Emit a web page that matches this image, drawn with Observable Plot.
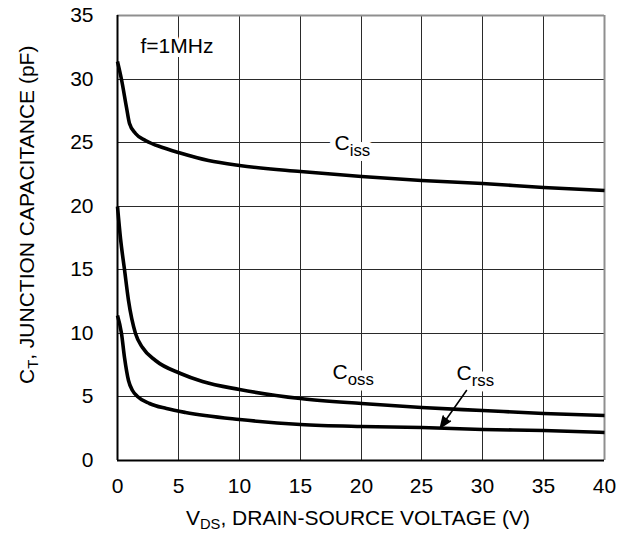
<!DOCTYPE html>
<html>
<head>
<meta charset="utf-8">
<script src="https://cdn.jsdelivr.net/npm/d3@7"></script>
<script src="https://cdn.jsdelivr.net/npm/@observablehq/plot@0.6"></script>
<style>
  body { margin: 0; background: #fff; }
  #chart svg { display: block; }
</style>
</head>
<body>
<div id="chart"></div>
<script>
// Junction capacitance vs drain-source voltage, f = 1 MHz
// Each series: [V_DS (V), capacitance (pF)]
const ciss = [
  [0, 31.4], [0.3, 30.0], [0.7, 27.8], [1.0, 26.5], [1.5, 25.7], [2.3, 25.2],
  [3.7, 24.6], [5, 24.2], [7.5, 23.6], [10, 23.2], [15, 22.7], [20, 22.35],
  [25, 22.0], [30, 21.75], [35, 21.5], [40, 21.25]
];
const coss = [
  [0, 20.0], [0.28, 17.5], [0.56, 15.0], [0.92, 12.6], [1.46, 10.0], [2.06, 8.9],
  [3.16, 7.86], [5.2, 6.82], [7, 6.19], [10, 5.58], [15, 4.9], [20, 4.48],
  [25, 4.18], [30, 3.9], [35, 3.7], [40, 3.54]
];
const crss = [
  [0, 11.4], [0.29, 10.0], [0.61, 8.1], [0.92, 6.3], [1.24, 5.5], [1.65, 5.0],
  [2.6, 4.46], [4, 4.06], [5.6, 3.8], [10, 3.2], [15, 2.82], [20, 2.68],
  [25, 2.57], [30, 2.46], [35, 2.33], [40, 2.22]
];

const xTicks = [0, 5, 10, 15, 20, 25, 30, 35, 40];
const yTicks = [0, 5, 10, 15, 20, 25, 30, 35];
const xGrid = [5, 10, 15, 20, 25, 30, 35];
const yGrid = [5, 10, 15, 20, 25, 30];

// Curve labels ("_" marks the start of a subscript), placed in data units
const curveLabels = [
  {x: 17.8, y: 24.9, text: "C_iss"},
  {x: 17.7, y: 6.92, text: "C_oss"},
  {x: 27.83, y: 6.84, text: "C_rss"}
];
const noteLabels = [{x: 1.9, y: 32.56, text: "f=1MHz"}];
const crssArrow = [{x1: 28.65, y1: 5.51, x2: 26.54, y2: 2.57}];

const W = 633, H = 533;
const mL = 117, mR = 29, mT = 15, mB = 73;
const FONT = "'Liberation Sans', Arial, Helvetica, sans-serif";

const series = [
  ...ciss.map(([v, c]) => ({v, c, s: "Ciss"})),
  ...coss.map(([v, c]) => ({v, c, s: "Coss"})),
  ...crss.map(([v, c]) => ({v, c, s: "Crss"}))
];

const labelOpts = {x: "x", y: "y", text: "text", textAnchor: "start", fontSize: 21};

const chart = Plot.plot({
  width: W,
  height: H,
  marginLeft: mL,
  marginRight: mR,
  marginTop: mT,
  marginBottom: mB,
  style: {fontFamily: FONT, fontSize: "21px", color: "#000", background: "#fff"},
  x: {domain: [0, 40], label: null, round: true},
  y: {domain: [0, 35], label: null, round: true},
  marks: [
    Plot.gridX(xGrid, {stroke: "#2a2a2a", strokeOpacity: 1, strokeWidth: 1}),
    Plot.gridY(yGrid, {stroke: "#2a2a2a", strokeOpacity: 1, strokeWidth: 1}),
    Plot.ruleX([40], {stroke: "#8f8f8f", strokeWidth: 2}),
    Plot.ruleY([35], {stroke: "#8f8f8f", strokeWidth: 2}),
    Plot.ruleX([0], {stroke: "#000", strokeWidth: 2}),
    Plot.ruleY([0], {stroke: "#000", strokeWidth: 2}),
    Plot.axisX({ticks: xTicks, tickSize: 0, tickPadding: 18, fontSize: 21, label: null}),
    Plot.axisY({ticks: yTicks, tickSize: 0, tickPadding: 24, fontSize: 21, label: null}),
    Plot.line(series, {
      x: "v", y: "c", z: "s",
      stroke: "#000", strokeWidth: 3.6, curve: "monotone-x",
      strokeLinejoin: "round", strokeLinecap: "butt"
    }),
    // white knock-out behind the labels, then the labels themselves
    Plot.text(noteLabels, {...labelOpts, fill: "#fff", stroke: "#fff", strokeWidth: 8}),
    Plot.text(curveLabels, {...labelOpts, fill: "#fff", stroke: "#fff", strokeWidth: 11}),
    Plot.text(noteLabels, {...labelOpts, fill: "#000"}),
    Plot.text(curveLabels, {...labelOpts, fill: "#000"}),
    Plot.arrow(crssArrow, {
      x1: "x1", y1: "y1", x2: "x2", y2: "y2",
      stroke: "#000", strokeWidth: 1.6, headLength: 11, headAngle: 44
    })
  ]
});

// Build text with subscripts from segments [{t, sub}]
function writeSegments(sel, segs, subScale, subShift) {
  sel.text(null);
  let down = false;
  segs.forEach(seg => {
    const ts = sel.append("tspan").text(seg.t);
    if (seg.sub && !down) {
      ts.attr("dy", subShift + "em").attr("font-size", subScale + "em");
      down = true;
    } else if (!seg.sub && down) {
      // shift back up, measured in the parent font size
      ts.attr("dy", (-subShift * subScale) + "em");
      down = false;
    } else if (seg.sub) {
      ts.attr("font-size", subScale + "em");
    }
  });
}

const svg = d3.select(chart);

// Curve labels: "C_iss" -> C with subscript "iss"
svg.selectAll("text").each(function () {
  const t = this.textContent;
  if (this.childElementCount === 0 && /^C_/.test(t)) {
    const [main, sub] = t.split("_");
    writeSegments(d3.select(this), [{t: main}, {t: sub, sub: true}], 0.8, 0.35);
  }
});

// Solid arrowhead: filling the head sub-path closes it into a triangle
svg.selectAll("g[aria-label='arrow'] path").attr("fill", "#000").attr("stroke-linejoin", "miter");

// Axis titles
const xTitle = svg.append("text")
  .attr("x", 186)
  .attr("y", H - 8)
  .attr("text-anchor", "start")
  .attr("font-family", FONT)
  .attr("font-size", 21)
  .attr("fill", "#000");
writeSegments(xTitle, [{t: "V"}, {t: "DS", sub: true}, {t: ", DRAIN-SOURCE VOLTAGE (V)"}], 0.7, 0.3);

const yTitle = svg.append("text")
  .attr("transform", `translate(34, 384) rotate(-90)`)
  .attr("text-anchor", "start")
  .attr("font-family", FONT)
  .attr("font-size", 21)
  .attr("fill", "#000");
writeSegments(yTitle, [{t: "C"}, {t: "T", sub: true}, {t: ", JUNCTION CAPACITANCE (pF)"}], 0.7, 0.3);

document.getElementById("chart").appendChild(chart);
</script>
</body>
</html>
